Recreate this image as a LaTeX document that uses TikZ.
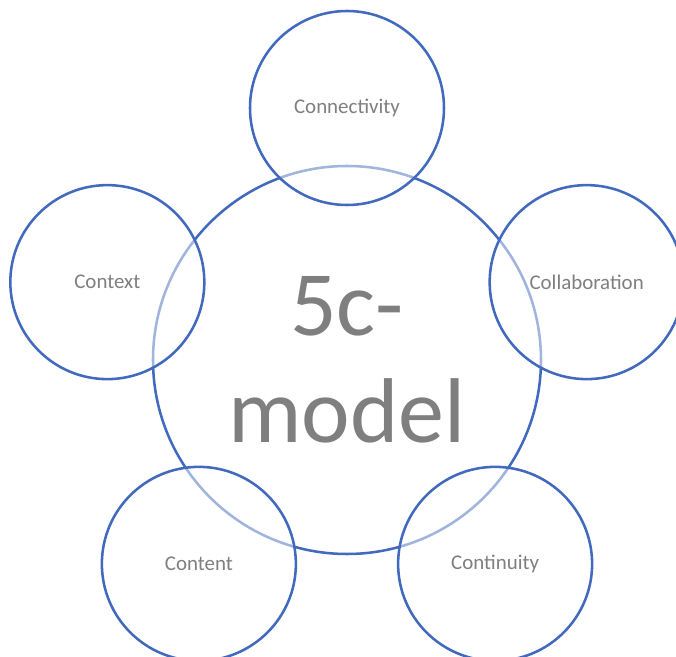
\documentclass[tikz,border=0pt]{standalone}
\usepackage{fontspec}
\setmainfont{Carlito}
\definecolor{ringblue}{HTML}{4169BD}
\definecolor{labelgrey}{HTML}{7F7F7F}
\begin{document}
\begin{tikzpicture}[
    ring/.style={circle, draw=ringblue, line width=1.9pt, inner sep=0pt},
    petal/.style={ring, minimum size=145.5pt, fill=white, fill opacity=0.5,
        text opacity=1, text=labelgrey, font=\fontsize{15.7}{19}\selectfont},
    hub/.style={ring, minimum size=291pt, fill=white, text=labelgrey,
        align=center, font=\fontsize{69}{80}\selectfont}
]
    % --- SETTINGS ---
    \def\D{189pt}   % distance hub -> petals

    % --- FRAME ---
    \clip (-260.25pt, -222.75pt) rectangle (246.75pt, 270pt);
    \useasboundingbox (-260.25pt, -222.75pt) rectangle (246.75pt, 270pt);

    % Central circle
    \node[hub] (model) at (0,0) {5c-\\model};

    % Outer circles, clockwise from the top
    \foreach \ang/\name/\txt in {90/connectivity/Connectivity,
                                 18/collaboration/Collaboration,
                                 306/continuity/Continuity,
                                 234/content/Content,
                                 162/context/Context} {
        \node[petal] (\name) at (\ang:\D) {\txt};
    }
\end{tikzpicture}
\end{document}
